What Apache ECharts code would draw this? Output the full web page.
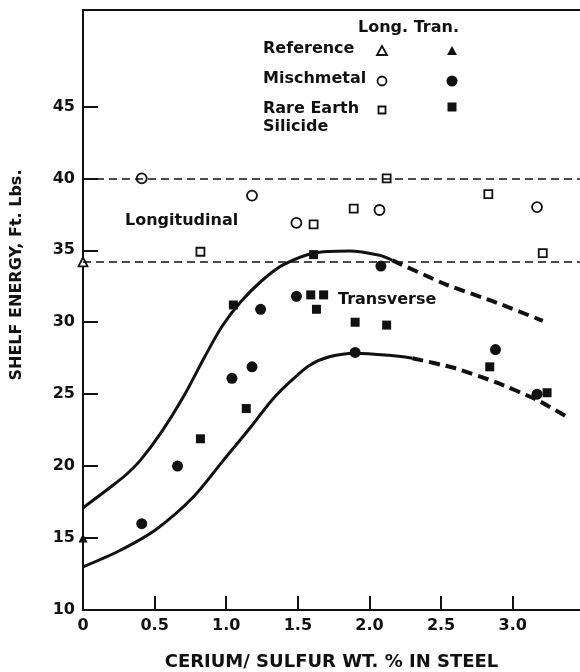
<!DOCTYPE html>
<html>
<head>
<meta charset="utf-8">
<script src="https://cdn.jsdelivr.net/npm/echarts@6/dist/echarts.min.js"></script>
<style>
  html, body { margin: 0; padding: 0; background: #fff; }
  #main { width: 580px; height: 672px; }
</style>
</head>
<body>
<div id="main"></div>
<script>
// x = cerium/sulfur ratio, y = shelf energy (ft. lbs.)
var xTicks = [0.5, 1.0, 1.5, 2.0, 2.5, 3.0];
var xLabels = [0, 0.5, 1.0, 1.5, 2.0, 2.5, 3.0];
var yTicks = [15, 20, 25, 30, 35, 40, 45];
var yLabels = [10, 15, 20, 25, 30, 35, 40, 45];

var longLevel = 40;
var refLevel = 34.2;

var refLong = [[0, 34.2]];
var refTran = [[0, 15.0]];
var mischLong = [[0.41, 40.0], [1.18, 38.8], [1.49, 36.9], [2.07, 37.8], [3.17, 38.0]];
var mischTran = [[0.41, 16.0], [0.66, 20.0], [1.04, 26.1], [1.18, 26.9], [1.24, 30.9], [1.49, 31.8],
                 [2.08, 33.9], [1.90, 27.9], [2.88, 28.1], [3.17, 25.0]];
var rareLong = [[0.82, 34.9], [1.61, 36.8], [1.89, 37.9], [2.12, 40.0], [2.83, 38.9], [3.21, 34.8]];
var rareTran = [[0.82, 21.9], [1.14, 24.0], [1.05, 31.2], [1.59, 31.9], [1.68, 31.9], [1.63, 30.9],
                [1.90, 30.0], [2.12, 29.8], [1.61, 34.7], [2.84, 26.9], [3.24, 25.1]];

var upperSolid = [[0, 17.1], [0.2, 18.6], [0.3, 19.4], [0.4, 20.4], [0.55, 22.4], [0.7, 24.8],
                  [0.85, 27.6], [0.97, 29.7], [1.10, 31.4], [1.25, 32.9], [1.40, 34.0], [1.61, 34.8],
                  [1.86, 34.95], [2.07, 34.65], [2.16, 34.3]];
var upperDash = [[2.16, 34.3], [2.54, 32.6], [2.85, 31.5], [3.21, 30.1]];
var lowerSolid = [[0, 13.0], [0.25, 14.1], [0.51, 15.6], [0.77, 17.85], [0.98, 20.4], [1.17, 22.7],
                  [1.32, 24.6], [1.45, 25.9], [1.58, 27.0], [1.72, 27.6], [1.90, 27.85], [2.14, 27.7],
                  [2.30, 27.5]];
var lowerDash = [[2.30, 27.5], [2.60, 26.8], [2.89, 25.8], [3.17, 24.6], [3.40, 23.3]];

var FONT = 'DejaVu Sans';

function curve(data, dashed) {
  return {
    type: 'line', data: data, symbol: 'none', smooth: dashed ? 0.2 : 0.3,
    lineStyle: { color: '#111', width: dashed ? 4 : 3, type: dashed ? [11, 6] : 'solid' },
    z: 2
  };
}

function points(data, shape, filled, size) {
  return {
    type: 'scatter', data: data, symbol: shape, symbolSize: size, clip: false,
    itemStyle: filled ? { color: '#111', opacity: 1 }
                      : { color: '#fff', borderColor: '#111', borderWidth: 1.8, opacity: 1 },
    z: 4
  };
}

function keyText(text, x, y) {
  return { type: 'text', left: x, top: y,
    style: { text: text, font: 'bold 16px ' + FONT, fill: '#111' } };
}
function keyMark(kind, cx, cy, filled) {
  var st = filled ? { fill: '#111' } : { fill: '#fff', stroke: '#111', lineWidth: 1.8 };
  if (kind === 'tri') return { type: 'polygon', shape: { points: [[cx, cy - 5], [cx - 5, cy + 4], [cx + 5, cy + 4]] }, style: st };
  if (kind === 'circ') return { type: 'circle', shape: { cx: cx, cy: cy, r: filled ? 5.5 : 4.5 }, style: st };
  var h = filled ? 4.5 : 3.5;
  return { type: 'rect', shape: { x: cx - h, y: cy - h, width: 2 * h, height: 2 * h }, style: st };
}

var chart = echarts.init(document.getElementById('main'));

var option = {
  backgroundColor: '#fff',
  animation: false,
  grid: { left: 83, right: 0, top: 10, bottom: 62, outerBoundsMode: 'none' },
  xAxis: [{
    type: 'value', min: 0, max: 3.47, interval: 0.5,
    axisLine: { lineStyle: { color: '#111', width: 2 } },
    axisTick: { inside: true, length: 14, lineStyle: { color: '#111', width: 2 }, customValues: xTicks },
    axisLabel: {
      customValues: xLabels, margin: 8, color: '#111', fontFamily: FONT, fontWeight: 'bold', fontSize: 16,
      formatter: function (v) { return v === 0 ? '0' : v.toFixed(1); }
    },
    splitLine: { show: false },
    name: 'CERIUM/ SULFUR WT. % IN STEEL', nameLocation: 'middle', nameGap: 43,
    nameTextStyle: { color: '#111', fontFamily: FONT, fontWeight: 'bold', fontSize: 18 }
  }, {
    type: 'value', position: 'top', min: 0, max: 3.47,
    axisLine: { show: true, lineStyle: { color: '#111', width: 2 } },
    axisTick: { show: false }, axisLabel: { show: false }, splitLine: { show: false }
  }],
  yAxis: {
    type: 'value', min: 10, max: 51.7, interval: 5,
    axisLine: { lineStyle: { color: '#111', width: 2 } },
    axisTick: { inside: true, length: 15, lineStyle: { color: '#111', width: 2 }, customValues: yTicks },
    axisLabel: {
      customValues: yLabels, margin: 8, color: '#111', fontFamily: FONT, fontWeight: 'bold', fontSize: 16
    },
    splitLine: { show: false },
    name: 'SHELF ENERGY, Ft. Lbs.', nameLocation: 'middle', nameGap: 58,
    nameTextStyle: { color: '#111', fontFamily: FONT, fontWeight: 'bold', fontSize: 16, padding: [0, 0, 0, 70] }
  },
  graphic: [
    keyText('Long. Tran.', 358, 20),
    keyText('Reference', 263, 41),
    keyText('Mischmetal', 263, 71),
    keyText('Rare Earth', 263, 101),
    keyText('Silicide', 263, 119),
    keyText('Longitudinal', 125, 213),
    keyText('Transverse', 338, 292),
    keyMark('tri', 382, 51, false), keyMark('tri', 452, 51, true),
    keyMark('circ', 382, 81, false), keyMark('circ', 452, 81, true),
    keyMark('rect', 382, 110, false), keyMark('rect', 452, 107, true)
  ],
  series: [
    {
      type: 'line', data: [], symbol: 'none',
      markLine: {
        silent: true, symbol: 'none', label: { show: false },
        lineStyle: { color: '#111', width: 1.6, type: [8, 5] },
        data: [{ yAxis: longLevel }, { yAxis: refLevel }]
      }
    },
    curve(upperSolid, false),
    curve(upperDash, true),
    curve(lowerSolid, false),
    curve(lowerDash, true),
    points(refLong, 'triangle', false, 9),
    points(refTran, 'triangle', true, 9),
    points(mischLong, 'circle', false, 10),
    points(mischTran, 'circle', true, 11),
    points(rareLong, 'rect', false, 8),
    points(rareTran, 'rect', true, 9)
  ]
};

chart.setOption(option);
window.onresize = chart.resize;
</script>
</body>
</html>
